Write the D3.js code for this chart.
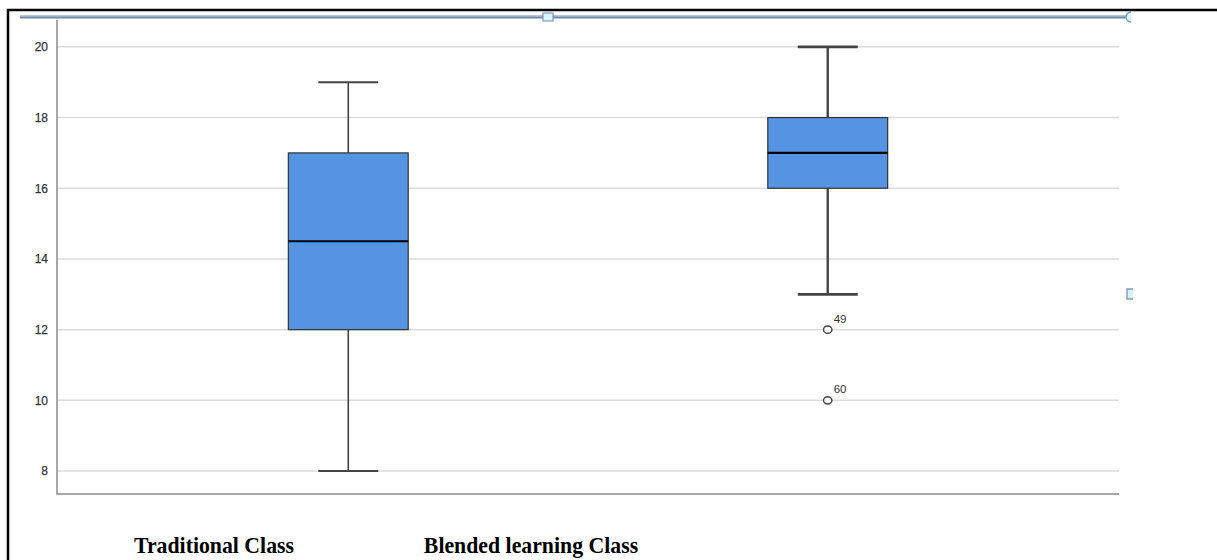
<!DOCTYPE html>
<html>
<head>
<meta charset="utf-8">
<script src="https://cdn.jsdelivr.net/npm/d3@7"></script>
<style>
  html, body { margin: 0; padding: 0; background: #fff; }
  svg { display: block; }
</style>
</head>
<body>
<svg id="chart" width="1217" height="560"></svg>
<script>
// Score distributions for the two classes
const categories = ["Traditional Class", "Blended learning Class"];
const mins    = [8, 13];
const q1s     = [12, 16];
const medians = [14.5, 17];
const q3s     = [17, 18];
const maxs    = [19, 20];
const outlierValues = [[], [12, 10]];
const outlierIds    = [[], ["49", "60"]];
const yTicks = [8, 10, 12, 14, 16, 18, 20];

const svg = d3.select("#chart");
const W = 1217, H = 560;

// plot area
const plot = { left: 57, right: 1119, top: 20, bottom: 494 };

const y = d3.scaleLinear().domain([7.35, 20.76]).range([plot.bottom, plot.top]);
const x = d3.scalePoint().domain(categories).range([plot.left, plot.right]).padding(0.6075);
const step = x.step();
const boxW = step * 0.25;
const capW = boxW / 2;
const whiskerW = [1.6, 2.4];

// outer document frame
svg.append("path")
  .attr("d", `M8,${H} L8,10 L${W},10`)
  .attr("fill", "none").attr("stroke", "#000").attr("stroke-width", 2.5);

// editor selection bar with handles
svg.append("line")
  .attr("x1", 20).attr("x2", 1127).attr("y1", 17).attr("y2", 17)
  .attr("stroke", "#6f88a4").attr("stroke-width", 3);
svg.append("line")
  .attr("x1", 20).attr("x2", 1127).attr("y1", 16.5).attr("y2", 16.5)
  .attr("stroke", "#9fb3c8").attr("stroke-width", 1);
svg.append("rect")
  .attr("x", 543).attr("y", 13).attr("width", 10).attr("height", 8)
  .attr("fill", "#d9f5fb").attr("stroke", "#7d9cbf").attr("stroke-width", 1.2);
svg.append("path")
  .attr("d", "M1131,12 A5,5 0 0 0 1131,22")
  .attr("fill", "#d9f5fb").attr("stroke", "#7d9cbf").attr("stroke-width", 1.4);
svg.append("path")
  .attr("d", "M1133,289 L1127,289 L1127,299 L1133,299")
  .attr("fill", "#d9f5fb").attr("stroke", "#7d9cbf").attr("stroke-width", 1.4);

// horizontal gridlines
svg.append("g")
  .selectAll("line")
  .data(yTicks)
  .join("line")
  .attr("x1", plot.left).attr("x2", plot.right)
  .attr("y1", d => y(d)).attr("y2", d => y(d))
  .attr("stroke", "#dcdcdc").attr("stroke-width", 1.5);

// y axis
const yAxis = svg.append("g")
  .attr("transform", `translate(${plot.left},0)`)
  .call(d3.axisLeft(y).tickValues(yTicks).tickSize(0).tickPadding(9).tickFormat(d3.format("d")));
yAxis.select(".domain").remove();
yAxis.selectAll("text")
  .attr("font-family", "Liberation Sans, Arial, sans-serif")
  .attr("font-size", 12).attr("fill", "#333")
  .attr("stroke", "#333").attr("stroke-width", 0.25);

// axis frame lines (left + bottom)
svg.append("path")
  .attr("d", `M${plot.left},${plot.top} L${plot.left},${plot.bottom} L${plot.right},${plot.bottom}`)
  .attr("fill", "none").attr("stroke", "#8a8a8a").attr("stroke-width", 1.5);

// boxplots
const stats = categories.map((c, i) => ({
  cat: c, min: mins[i], q1: q1s[i], med: medians[i], q3: q3s[i], max: maxs[i], ww: whiskerW[i],
  out: outlierValues[i].map((v, j) => ({ v, id: outlierIds[i][j] }))
}));

const g = svg.append("g");
const boxes = g.selectAll("g.box").data(stats).join("g").attr("class", "box");

// whisker stems
boxes.append("line")
  .attr("x1", d => x(d.cat)).attr("x2", d => x(d.cat))
  .attr("y1", d => y(d.max)).attr("y2", d => y(d.q3))
  .attr("stroke", "#444").attr("stroke-width", d => d.ww);
boxes.append("line")
  .attr("x1", d => x(d.cat)).attr("x2", d => x(d.cat))
  .attr("y1", d => y(d.q1)).attr("y2", d => y(d.min))
  .attr("stroke", "#444").attr("stroke-width", d => d.ww);
// whisker caps
boxes.append("line")
  .attr("x1", d => x(d.cat) - capW / 2).attr("x2", d => x(d.cat) + capW / 2)
  .attr("y1", d => y(d.max)).attr("y2", d => y(d.max))
  .attr("stroke", "#444").attr("stroke-width", d => d.ww + 0.3);
boxes.append("line")
  .attr("x1", d => x(d.cat) - capW / 2).attr("x2", d => x(d.cat) + capW / 2)
  .attr("y1", d => y(d.min)).attr("y2", d => y(d.min))
  .attr("stroke", "#444").attr("stroke-width", d => d.ww + 0.3);
// boxes
boxes.append("rect")
  .attr("x", d => x(d.cat) - boxW / 2).attr("width", boxW)
  .attr("y", d => y(d.q3)).attr("height", d => y(d.q1) - y(d.q3))
  .attr("fill", "#5593e3").attr("stroke", "#333").attr("stroke-width", 1.2);
// medians
boxes.append("line")
  .attr("x1", d => x(d.cat) - boxW / 2).attr("x2", d => x(d.cat) + boxW / 2)
  .attr("y1", d => y(d.med)).attr("y2", d => y(d.med))
  .attr("stroke", "#000").attr("stroke-width", 2.2);

// outliers
const outs = boxes.selectAll("g.out").data(d => d.out.map(o => ({ ...o, cat: d.cat })))
  .join("g").attr("class", "out");
outs.append("ellipse")
  .attr("cx", d => x(d.cat)).attr("cy", d => y(d.v))
  .attr("rx", 4.2).attr("ry", 3.6)
  .attr("fill", "#fff").attr("stroke", "#444").attr("stroke-width", 1.4);
outs.append("text")
  .attr("x", d => x(d.cat) + 6).attr("y", d => y(d.v) - 7)
  .attr("font-family", "Liberation Sans, Arial, sans-serif")
  .attr("font-size", 11.5).attr("fill", "#333")
  .text(d => d.id);

// category captions below the chart
const captionX = [214, 531];
svg.append("g")
  .selectAll("text")
  .data(categories)
  .join("text")
  .attr("transform", (d, i) => `translate(${captionX[i]},553) scale(1,1.1)`)
  .attr("text-anchor", "middle")
  .attr("font-family", "Liberation Serif, Times New Roman, serif")
  .attr("font-weight", "bold").attr("font-size", 21.8).attr("fill", "#000")
  .text(d => d);
</script>
</body>
</html>
